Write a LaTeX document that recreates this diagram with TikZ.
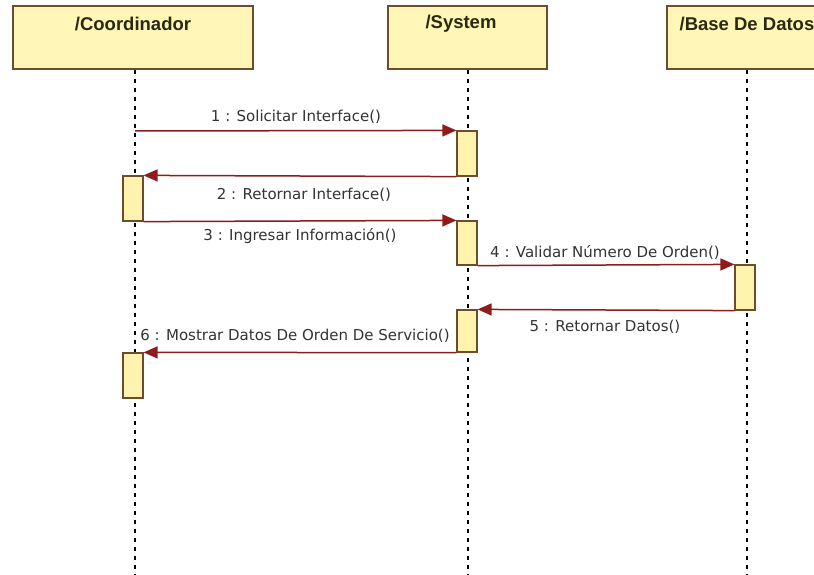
\documentclass[tikz,border=0pt]{standalone}
\usepackage{fontspec}
\setmainfont{Liberation Sans}
\newfontfamily\lblfont{DejaVu Sans}
\usetikzlibrary{arrows.meta}
\definecolor{boxfill}{HTML}{FFF6B8}
\definecolor{boxdraw}{HTML}{6E4B2A}
\definecolor{actfill}{HTML}{FFF3AE}
\definecolor{msgcol}{HTML}{8E1C1C}
\definecolor{headcol}{HTML}{2A2A12}
\definecolor{txtcol}{HTML}{333333}
\tikzset{
  header/.style={draw=boxdraw, fill=boxfill, line width=1.4pt, minimum height=63pt, inner sep=0pt},
  headtext/.style={font=\bfseries\fontsize{18.5}{22}\selectfont, text=headcol, inner sep=0pt},
  lifeline/.style={draw=black, line width=1.3pt, dash pattern=on 4pt off 5pt},
  activation/.style={draw=boxdraw, fill=actfill, line width=1.2pt, minimum width=20pt, inner sep=0pt},
  msg/.style={draw=msgcol, line width=1.5pt, -{Triangle[length=14pt,width=12pt,fill=msgcol]}},
  msglabel/.style={font=\lblfont\fontsize{15}{18}\selectfont, text=txtcol, inner sep=0pt}
}
\begin{document}
\begin{tikzpicture}[x=1pt,y=-1pt]
\useasboundingbox (0,0) rectangle (814,575);
\clip (0,0) rectangle (814,575);
\fill[white] (0,0) rectangle (814,575);
% headers
\node[header, minimum width=240pt] (coord) at (133,37.5) {};
\node[header, minimum width=159pt] (sys) at (467.5,37.5) {};
\node[header, minimum width=160pt] (db) at (747,37.5) {};
\node[headtext] (coordT) at (133,24) {/Coordinador};
\node[headtext] (sysT) at (461,24) {/System};
\node[headtext] (dbT) at (747,24) {/Base De Datos};
% lifelines
\coordinate (coordEnd) at (135,575);
\coordinate (sysEnd) at (468,575);
\coordinate (dbEnd) at (747,575);
\draw[lifeline] (coord.south -| coordEnd) -- (coordEnd);
\draw[lifeline] (sys.south -| sysEnd) -- (sysEnd);
\draw[lifeline] (db.south -| dbEnd) -- (dbEnd);
% activations
\node[activation, minimum height=45pt] (a1) at (467,153.5) {};
\node[activation, minimum height=45pt] (a2) at (133,198.5) {};
\node[activation, minimum height=44pt] (a3) at (467,243) {};
\node[activation, minimum height=45pt] (a4) at (745,287.5) {};
\node[activation, minimum height=42pt] (a5) at (467,331) {};
\node[activation, minimum height=45pt] (a6) at (133,375.5) {};
% messages
\coordinate (m1s) at (135,131);
\draw[msg] (m1s) -- (a1.north west);
\draw[msg] (a1.south west) -- (a2.north east);
\draw[msg] (a2.south east) -- (a3.north west);
\draw[msg] (a3.south east) -- (a4.north west);
\draw[msg] (a4.south west) -- (a5.north east);
\draw[msg] (a5.south west) -- (a6.north east);
% labels
\node[msglabel] (l1) at (296,117) {1 : Solicitar Interface()};
\node[msglabel] (l2) at (304,195) {2 : Retornar Interface()};
\node[msglabel] (l3) at (300,236) {3 : Ingresar Información()};
\node[msglabel] (l4) at (605,252) {4 : Validar Número De Orden()};
\node[msglabel] (l5) at (605,327) {5 : Retornar Datos()};
\node[msglabel] (l6) at (295,336) {6 : Mostrar Datos De Orden De Servicio()};
\end{tikzpicture}
\end{document}
